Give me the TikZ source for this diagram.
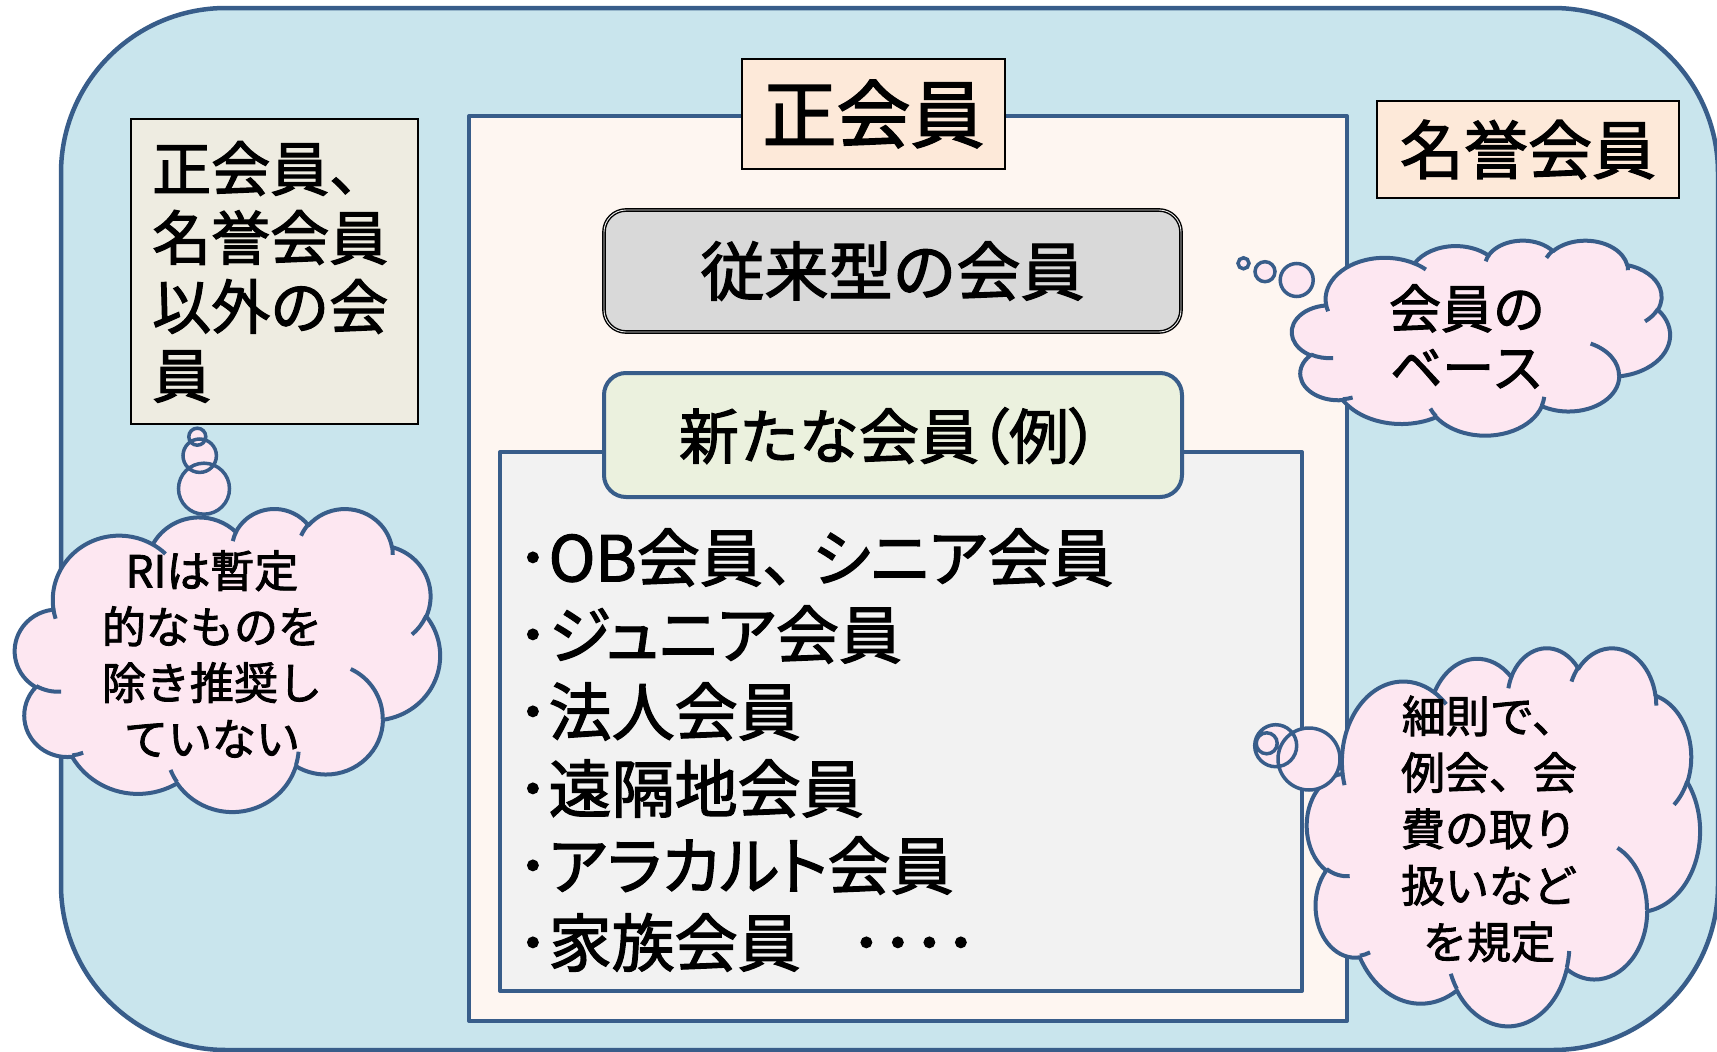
\documentclass[tikz,border=0pt]{standalone}
\usepackage{fontspec}
\setmainfont{Noto Sans CJK JP}[FakeBold=2]
\newfontfamily\jpp{Noto Sans CJK JP}[FakeBold=2,RawFeature=+palt]
\definecolor{bline}{HTML}{385D8A}
\definecolor{outerfill}{HTML}{C9E5ED}
\definecolor{framefill}{HTML}{FEF6F1}
\definecolor{peach}{HTML}{FDE9D9}
\definecolor{tanfill}{HTML}{EEECE1}
\definecolor{grayfill}{HTML}{D9D9D9}
\definecolor{greenfill}{HTML}{EBF1DE}
\definecolor{listfill}{HTML}{F2F2F2}
\definecolor{pinkfill}{HTML}{FDE7F1}

% arcs of the cloud outline, path units 0..4320, angles converted to parametric ones
\newcommand\defcarc[5]{%
  \pgfmathsetmacro\cta{atan2((#2)*sin(#4),(#3)*cos(#4))}%
  \pgfmathsetmacro\ctbraw{atan2((#2)*sin(#4+#5),(#3)*cos(#4+#5))}%
  \pgfmathsetmacro\ctb{\ctbraw+360*round((\cta+#5-\ctbraw)/360)}%
  \expandafter\xdef\csname #1\endcsname{arc[start angle=\cta,end angle=\ctb,x radius=#2,y radius=#3]}%
}
\defcarc{cpA}{675.3}{919.0}{-190.4875}{123.7805}
\defcarc{cpB}{533.3}{726.7}{-144.1024}{89.9452}
\defcarc{cpC}{436.5}{594.5}{-145.8079}{99.7230}
\defcarc{cpD}{485.7}{659.5}{-130.9861}{117.2417}
\defcarc{cpE}{533.3}{727.3}{-78.7089}{109.0269}
\defcarc{cpF}{677.5}{922.0}{-46.2673}{130.2690}
\defcarc{cpG}{578.5}{786.7}{0.6250}{114.0333}
\defcarc{cpH}{675.2}{921.5}{22.4516}{115.1726}
\defcarc{cpI}{772.0}{1054.3}{66.2426}{75.7110}
\defcarc{cpJ}{436.0}{591.8}{-274.9421}{146.7356}
\defcarc{cpK}{434.5}{594.5}{-246.8285}{152.5189}
\defcarc{ciA}{434.5}{594.5}{86.7420}{26.4295}
\defcarc{ciB}{436.0}{591.8}{73.6105}{11.4475}
\defcarc{ciC}{675.2}{921.5}{137.6242}{14.0811}
\defcarc{ciD}{675.2}{921.5}{6.4533}{15.9984}
\defcarc{ciE}{578.5}{786.7}{-70.2924}{70.9174}
\defcarc{ciF}{533.3}{727.3}{30.3180}{27.7515}
\defcarc{ciG}{485.7}{659.5}{-13.7443}{14.8589}
\defcarc{ciH}{485.7}{659.5}{-149.1815}{18.1954}
\defcarc{ciI}{436.5}{594.5}{-163.4943}{17.6864}
\defcarc{ciJ}{675.3}{919.0}{-66.7070}{12.3194}
\defcarc{ciK}{675.3}{919.0}{157.6544}{11.8582}

\newcommand\pcloud[5]{%
  \pgfmathsetmacro\csx{#3/4320}%
  \pgfmathsetmacro\csy{#4/4320}%
  \begin{scope}[shift={(#1,#2)},x=\csx pt,y=-\csy pt]
    \path[cloudbody] (390,1437) \cpA\cpB\cpC\cpD\cpE\cpF\cpG\cpH\cpI\cpJ\cpK -- cycle;
  \end{scope}
  #5
  \begin{scope}[shift={(#1,#2)},x=\csx pt,y=-\csy pt]
    \path[cloudarc] (469.3,2617.7) \ciA (692.8,3489.9) \ciB (1647.8,3909.0) \ciC
      (2882.7,3475.1) \ciD (3412.9,2295.4) \ciE (4179.8,1535.4) \ciF
      (3832.4,542.6) \ciG (2907.8,395.2) \ciH (2214.1,472.0) \ciI
      (1400.0,519.2) \ciJ (412.7,1578.9) \ciK;
  \end{scope}}

\begin{document}
\begin{tikzpicture}[x=1pt,y=-1pt,
  outerbox/.style={draw=bline,line width=4.5pt,fill=outerfill,rounded corners=165pt},
  frame/.style={draw=bline,line width=4pt,line join=round},
  labelbox/.style={draw=black,line width=1.4pt,fill=peach,inner sep=0pt,align=center},
  tanbox/.style={draw=black,line width=1.4pt,fill=tanfill,inner sep=0pt},
  graybox/.style={draw=black,line width=1.4pt,double=grayfill!50!white,double distance=0.9pt,
    fill=grayfill,rounded corners=22pt,inner sep=0pt},
  greenbox/.style={draw=bline,line width=4pt,fill=greenfill,rounded corners=22pt,inner sep=0pt},
  cloudbody/.style={draw=bline,line width=4pt,fill=pinkfill,line join=round},
  cloudarc/.style={draw=bline,line width=4pt,line cap=butt},
  bubble/.style={draw=bline,line width=3.5pt,fill=pinkfill},
  plain/.style={inner sep=0pt,align=center}]
\useasboundingbox (0,0) rectangle (1717,1052);

\draw[outerbox] (61,8) rectangle (1718,1050);
\draw[frame,fill=framefill] (469,116) rectangle (1347,1021);

\node[labelbox,minimum width=263pt,minimum height=110pt,font=\fontsize{74}{80}\selectfont]
  (seikaiin) at (873.5,114) {正会員};
\node[labelbox,minimum width=302pt,minimum height=97pt,font=\fontsize{64}{70}\selectfont]
  (meiyo) at (1528,149.5) {名誉会員};

\node[tanbox,minimum width=287pt,minimum height=305pt] (gaibox) at (274.5,271.5) {};
\node[plain,align=left,anchor=west,font=\fontsize{59}{69}\selectfont]
  (gaitext) at (152,272) {正会員、\\名誉会員\\以外の会\\員};

\node[graybox,minimum width=577pt,minimum height=122pt,font=\fontsize{64}{70}\selectfont]
  (juurai) at (892.5,271) {従来型の会員};

\draw[frame,fill=listfill] (500,452) rectangle (1302,991);
\node[greenbox,minimum width=578pt,minimum height=124pt] (arata) at (893,435) {};
\node[plain,font=\fontsize{60}{66}\selectfont] (aratatext) at (889,436)
  {新たな会員{\jpp（例）}};

\node[plain,align=left,anchor=west,font=\jpp\fontsize{63}{77}\selectfont]
  (list) at (517,750) {･OB会員、\kern18pt シニア会員\\･ジュニア会員\\･法人会員\\･遠隔地会員\\･アラカルト会員\\･家族会員\hspace{50pt}････};

\pcloud{1292}{240}{378}{195}{%
  \path[bubble] (1243.5,263.3) circle[radius=5.5] (1265,271.7) circle[radius=10]
    (1296.7,280) circle[radius=16.5];}
\node[plain,font=\fontsize{52}{59}\selectfont] (base) at (1467,336.5) {会員の\\ベース};

\pcloud{15}{508}{425}{303}{%
  \path[bubble] (197.3,436.7) circle[radius=8.5] (199.7,455.7) circle[radius=16.7]
    (204,488.7) circle[radius=25.5];}
\node[plain,font=\fontsize{44}{56}\selectfont] (ri) at (212,654) {RIは暫定\\的なものを\\除き推奨し\\ていない};

\pcloud{1307}{647}{393}{378}{%
  \path[bubble] (1266.7,743.3) circle[radius=10.5] (1275.7,745.7) circle[radius=21]
    (1309,759) circle[radius=31];}
\node[plain,font=\fontsize{44}{56.5}\selectfont] (saisoku) at (1489,829) {細則で、\\例会、会\\費の取り\\扱いなど\\を規定};
\end{tikzpicture}
\end{document}
